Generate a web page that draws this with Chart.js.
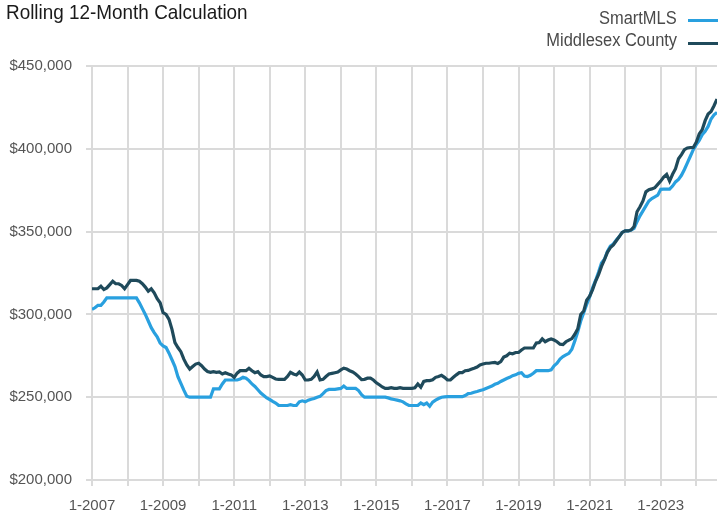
<!DOCTYPE html>
<html>
<head>
<meta charset="utf-8">
<script src="https://cdn.jsdelivr.net/npm/chart.js@4.4.1/dist/chart.umd.min.js"></script>
<style>
  body { margin: 0; background: #fff; }
  #wrap { position: relative; width: 718px; height: 515px; font-family: "Liberation Sans", Arial, sans-serif; }
  #chart { position: absolute; left: 0; top: 0; }
  #title { position: absolute; left: 6px; top: 1px; font-size: 21px; line-height: 21px; color: #1a1a1a;
           white-space: nowrap; transform: scaleX(0.9); transform-origin: left top; }
  .leg-text { position: absolute; right: 41px; font-size: 17.5px; line-height: 18px; color: #4a4a4a;
              white-space: nowrap; transform: scaleX(0.94); transform-origin: right top; }
  .leg-line { position: absolute; left: 688px; width: 30px; height: 3px; }
</style>
</head>
<body>
<div id="wrap">
  <canvas id="chart" width="718" height="515"></canvas>
  <div id="title">Rolling 12-Month Calculation</div>
  <div class="leg-text" style="top:9px">SmartMLS</div>
  <div class="leg-line" style="top:19px; background:#29a0df"></div>
  <div class="leg-text" style="top:31px">Middlesex County</div>
  <div class="leg-line" style="top:42px; background:#1f4a5b"></div>
</div>
<script>
// monthly values in $ thousands, 1-2007 .. 8-2024
const middlesex = [
  315.5, 315.5, 315.5, 317, 315, 316, 318, 320, 318.5, 318.5,
  317.5, 315.5, 318, 320.5, 320.5, 320.5, 320, 318.5, 316.5, 314,
  315.5, 313, 309.5, 307, 301, 300, 297, 291, 283, 280,
  277.5, 273, 269.5, 267, 268.5, 270, 270.5, 269, 267, 265.5,
  265, 265.4, 265, 265.2, 264, 264.8, 264, 263.5, 262, 264.5,
  266, 266, 266, 267.5, 266, 264.8, 265.4, 263.4, 262.4, 262.4,
  262.8, 262, 261, 260.8, 260.8, 260.8, 262.5, 265, 264, 263.4,
  265.2, 263.4, 260.4, 260.4, 260.8, 262.5, 265.2, 260.4, 260.8, 262.5,
  264, 264.4, 264.8, 265.2, 266.5, 267.5, 267, 266, 265.2, 264,
  262.4, 260.6, 260.8, 261.5, 261.5, 260.4, 258.7, 257.5, 256.2, 255.3,
  255.3, 255.7, 255.3, 255.3, 255.7, 255.3, 255.3, 255.3, 255.3, 255.7,
  258, 256, 259.5, 260, 260, 260.5, 262, 262.5, 263.2, 262,
  260.4, 260.4, 262, 263.5, 264.8, 264.8, 266, 266.2, 266.9, 267.5,
  268.2, 269.5, 270, 270.5, 270.5, 270.8, 271, 270.4, 271.5, 274.2,
  275, 276.6, 276.2, 277, 277, 278.5, 279.7, 279.7, 279.7, 279.7,
  282.7, 283, 285.2, 283.5, 284.5, 285.2, 284.5, 283.5, 282, 281.8,
  283.5, 284.5, 285.4, 288, 291.3, 300, 302, 308.5, 311, 315,
  320, 324, 329, 333, 337.5, 340.3, 342, 344.5, 347, 349.5,
  350.4, 350.4, 351, 353, 362, 365, 368.5, 374, 375.3, 375.8,
  376.5, 378.5, 380.5, 383, 384.6, 380.5, 384.6, 388, 394, 396.5,
  399.5, 400.5, 400.8, 400.8, 404, 409, 411.5, 417, 421, 422.5, 426, 430
];

const smartMls = [
  303, 304, 305.5, 305.5, 307.5, 310, 310, 310, 310, 310,
  310, 310, 310, 310, 310, 310, 307, 303.5, 300, 296,
  292, 289, 286.4, 282.7, 281, 280, 276.6, 272.6, 268.5, 262.4,
  258.3, 254.3, 250.6, 250, 250, 250, 250, 250, 250, 250,
  250, 255, 255, 255, 258, 260.4, 260.4, 260.4, 260.4, 260.4,
  261, 262, 261.5, 260, 258, 256.5, 254.5, 252.5, 251, 249.5,
  248.6, 247.5, 246.5, 245.1, 245, 245, 245, 245.5, 245, 245,
  247.2, 247.8, 247.2, 248.2, 248.8, 249.2, 250, 250.5, 252.2, 254,
  254.7, 254.7, 254.7, 255, 255.3, 256.7, 255.3, 255.3, 255.3, 255.3,
  254, 251.5, 250, 250, 250, 250, 250, 250, 250, 250,
  249.6, 249, 248.6, 248.2, 247.8, 247.2, 246, 245, 245, 245,
  245, 246.5, 245.5, 246.5, 244.5, 247, 248.2, 249.2, 250, 250.2,
  250.3, 250.3, 250.3, 250.3, 250.3, 250.3, 251, 252.2, 252.4, 253,
  253.4, 254, 254.5, 255.3, 256, 256.7, 257.8, 258.4, 259.5, 260.4,
  261.3, 262, 263, 263.5, 264.4, 264.8, 262.8, 262.5, 263.2, 264.5,
  266, 266, 266, 266, 266, 266.5, 269, 270.5, 273, 274.5,
  275.5, 276.5, 279, 284, 289.5, 296, 301, 306, 310.5, 316,
  320.5, 325.5, 331, 333.3, 338, 341.2, 342.5, 345, 347, 349.5,
  350.4, 350.4, 351, 352, 356, 359.5, 362.5, 365.5, 368.5, 370,
  371, 372, 375.5, 375.6, 375.6, 375.6, 377.5, 380, 381.5, 384,
  387.5, 391.5, 395.5, 399.5, 402.5, 405, 408.5, 410.5, 413.5, 418, 420.5, 422
];

// labels shown on every other January gridline
const xTickLabels = ['1-2007', '1-2009', '1-2011', '1-2013', '1-2015', '1-2017', '1-2019', '1-2021', '1-2023'];
const yTicks = [200, 250, 300, 350, 400, 450];

const BLUE = '#29a0df';
const DARK = '#1f4a5b';
const GRID = '#dadada';
const TICK_FONT = { family: '"Liberation Sans", Arial, sans-serif', size: 15 };

const lastMonth = middlesex.length - 1;
const januaries = [];
for (let m = 0; m <= lastMonth; m += 12) januaries.push(m);

const toPoints = arr => arr.map((v, i) => ({ x: i, y: v }));

new Chart(document.getElementById('chart').getContext('2d'), {
    type: 'line',
    data: {
        datasets: [
            {
                label: 'Middlesex County',
                data: toPoints(middlesex),
                borderColor: DARK,
                borderWidth: 3.2,
                pointRadius: 0,
                tension: 0,
                order: 1
            },
            {
                label: 'SmartMLS',
                data: toPoints(smartMls),
                borderColor: BLUE,
                borderWidth: 3.2,
                pointRadius: 0,
                tension: 0,
                order: 2
            }
        ]
    },
    options: {
        responsive: false,
        animation: false,
        layout: { padding: { top: 66, right: 1, left: 0, bottom: 0 } },
        plugins: {
            legend: { display: false },
            tooltip: { enabled: false }
        },
        scales: {
            x: {
                type: 'linear',
                min: 0,
                max: lastMonth,
                afterBuildTicks: scale => {
                    scale.ticks = januaries.map(v => ({ value: v }));
                },
                afterFit: scale => { scale.height = 35; },
                ticks: {
                    autoSkip: false,
                    maxRotation: 0,
                    padding: 11,
                    color: '#555',
                    font: TICK_FONT,
                    callback: value => (value % 24 === 0 ? xTickLabels[value / 24] : '')
                },
                grid: { color: GRID, lineWidth: 2, tickLength: 6 },
                border: { display: false }
            },
            y: {
                min: yTicks[0],
                max: yTicks[yTicks.length - 1],
                afterBuildTicks: scale => {
                    scale.ticks = yTicks.map(v => ({ value: v }));
                },
                afterFit: scale => { scale.width = 92; },
                ticks: {
                    padding: 14,
                    color: '#555',
                    font: TICK_FONT,
                    callback: value => '$' + (value * 1000).toLocaleString('en-US')
                },
                grid: { color: GRID, lineWidth: 2, tickLength: 6 },
                border: { display: false }
            }
        }
    }
});
</script>
</body>
</html>
